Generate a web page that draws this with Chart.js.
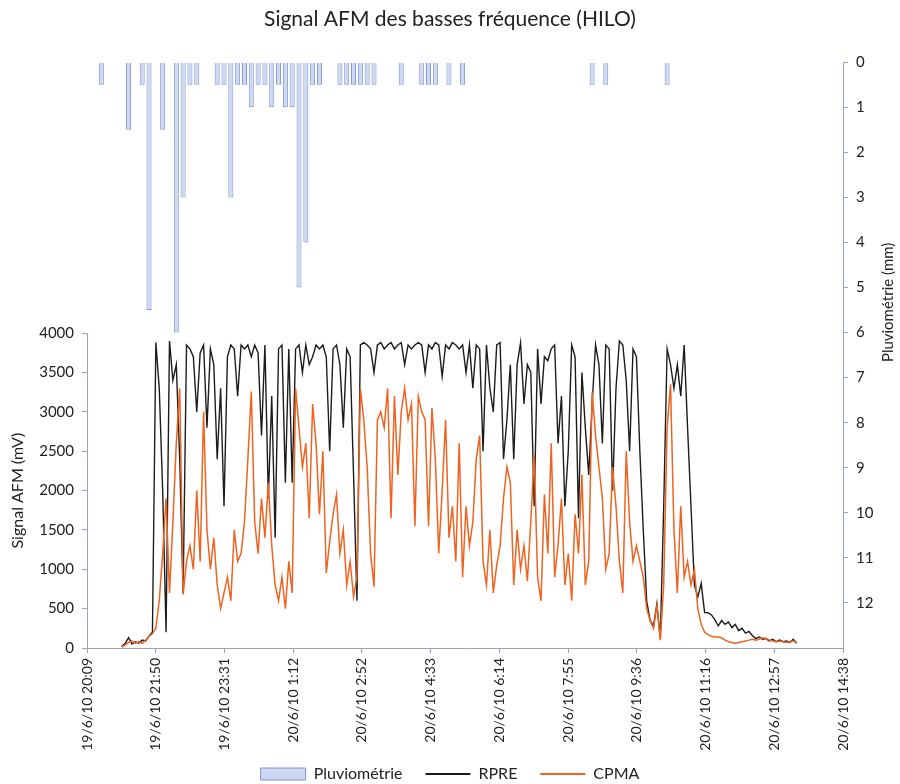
<!DOCTYPE html>
<html>
<head>
<meta charset="utf-8">
<script src="https://cdn.jsdelivr.net/npm/chart.js@4.4.0/dist/chart.umd.min.js"></script>
<style>
  html, body { margin: 0; padding: 0; background: #fff; }
</style>
</head>
<body>
<canvas id="afmChart" width="900" height="784"></canvas>
<script>
// Chart data (times are minutes since 19/6/10 00:00)
const chartTitle = 'Signal AFM des basses fréquence (HILO)';
const xTickLabels = [
  '19/6/10 20:09', '19/6/10 21:50', '19/6/10 23:31', '20/6/10 1:12',
  '20/6/10 2:52', '20/6/10 4:33', '20/6/10 6:14', '20/6/10 7:55',
  '20/6/10 9:36', '20/6/10 11:16', '20/6/10 12:57', '20/6/10 14:38'
];
const X_MIN = 1209;  // 19/6/10 20:09
const X_MAX = 2318;  // 20/6/10 14:38

// AFM signal, one reading every 5 min from 21:00
const SIGNAL_START = 1260;
const SIGNAL_STEP = 5;
const rpre = [
  20, 60, 130, 50, 80, 60, 100, 90, 150, 200,
  3880, 3300, 2000, 200, 3900, 3400, 3600, 2400, 700, 3850,
  3800, 3700, 3000, 3750, 3850, 2800, 3800, 3600, 2400, 3300,
  1800, 3700, 3850, 3800, 3200, 3850, 3800, 3850, 3700, 3850,
  3750, 2700, 3850, 1900, 3200, 1400, 3800, 3850, 2100, 3800,
  2100, 3800, 3850, 3500, 3850, 3600, 3700, 3850, 3800, 3850,
  3700, 2500, 3800, 3850, 3600, 2800, 3800, 3700, 2200, 600,
  3850, 3880, 3850, 3800, 3500, 3850, 3880, 3800, 3850, 3880,
  3800, 3850, 3880, 3600, 3850, 3800, 3850, 3880, 3850, 3500,
  3850, 3800, 3880, 3850, 3450, 3850, 3800, 3880, 3850, 3800,
  3850, 3500, 3850, 3300, 3850, 3800, 2500, 3850, 3300, 3000,
  3850, 3880, 2400, 2900, 3600, 2400, 3600, 3880, 3100, 3600,
  3500, 1800, 3800, 3100, 3700, 3650, 3800, 3850, 2600, 3200,
  1800, 2500, 3850, 3700, 1650, 3500, 2800, 2200, 3100, 3850,
  3600, 2600, 3850, 3800, 2000, 3300, 3900, 3850, 3400, 2500,
  3800, 3700, 2500, 1500, 600, 350, 280, 560, 120, 1800,
  3800, 3600, 3300, 3600, 3200, 3850, 2800, 1800, 800, 650,
  820, 450, 450, 420, 360, 280, 350, 300, 330, 260,
  300, 220, 250, 190, 210, 160, 120, 140, 110, 120,
  90, 110, 80, 100, 80, 90, 70, 110, 60
];
const cpma = [
  10, 40, 70, 90, 60, 80, 60, 100, 150, 180,
  250, 600, 1200, 1900, 700, 1600, 2600, 3300, 680, 1100,
  1300, 1000, 2000, 1100, 3000, 1500, 1000, 1400, 800, 500,
  700, 900, 600, 1500, 1100, 1200, 1600, 2400, 3260, 1600,
  1200, 1900, 1400, 2100, 1300, 800, 600, 900, 500, 1100,
  700, 3300, 2800, 2300, 2600, 1650, 3100, 2600, 1700, 2500,
  950, 1350, 1700, 1950, 1200, 1500, 800, 1100, 650, 900,
  3300, 2900, 2300, 1200, 780, 2900, 3000, 2800, 3300, 1650,
  3200, 2200, 3000, 3300, 2900, 3100, 1550, 3200, 3000, 2900,
  1550, 3050, 2400, 1200, 2000, 2900, 1400, 1800, 1100, 2600,
  900, 1800, 1300, 1600, 2400, 2700, 1100, 800, 1500, 700,
  1050, 1300, 1900, 2300, 2100, 800, 1500, 1000, 1300, 850,
  1600, 2450, 900, 600, 1950, 1200, 2600, 900, 1300, 1900,
  800, 1200, 600, 1700, 1200, 2200, 800, 1100, 3250, 2700,
  2300, 1900, 1000, 1200, 2300, 1800, 1100, 700, 2500, 1600,
  1100, 1300, 1100, 900, 500, 350, 250, 540, 100, 800,
  2800, 3350, 1500, 700, 1800, 900, 1100, 800, 1000, 500,
  300, 200, 170, 150, 140, 140, 130, 100, 80, 70,
  60, 70, 80, 90, 100, 110, 100, 110, 130, 120,
  100, 90, 80, 90, 80, 70, 80, 90, 70
];

// Rainfall (mm), one value every 10 min from 20:30
const RAIN_START = 1230;
const RAIN_STEP = 10;
const rain = [
  0.5, 0, 0, 0, 1.5, 0, 0.5, 5.5, 0, 1.5,
  0, 6, 3, 0.5, 0.5, 0, 0, 0.5, 0.5, 3,
  0.5, 0.5, 1, 0.5, 0.5, 1, 0.5, 1, 1, 5,
  4, 0.5, 0.5, 0, 0, 0.5, 0.5, 0.5, 0.5, 0.5,
  0.5, 0, 0, 0, 0.5, 0, 0, 0.5, 0.5, 0.5,
  0, 0.5, 0, 0.5, 0, 0, 0, 0, 0, 0,
  0, 0, 0, 0, 0, 0, 0, 0, 0, 0,
  0, 0, 0.5, 0, 0.5, 0, 0, 0, 0, 0,
  0, 0, 0, 0.5
];

const signalTicks = [0, 500, 1000, 1500, 2000, 2500, 3000, 3500, 4000];
const rainTicks = [0, 1, 2, 3, 4, 5, 6, 7, 8, 9, 10, 11, 12];

// Styling
const FONT = 'Lato, "Open Sans", sans-serif';
const AXIS = '#97a3c0';
const TEXT = '#222';

// Right axis title reads bottom-to-top, so it is drawn here
const rightTitle = {
  id: 'rightTitle',
  afterDraw(chart) {
    const s = chart.scales.yRain;
    const ctx = chart.ctx;
    ctx.save();
    ctx.translate(s.right - 12, s.top + (s.bottom - s.top) * 0.41);
    ctx.rotate(-Math.PI / 2);
    ctx.font = '15px ' + FONT;
    ctx.fillStyle = TEXT;
    ctx.textAlign = 'center';
    ctx.textBaseline = 'middle';
    ctx.fillText('Pluviométrie (mm)', 0, 0);
    ctx.restore();
  }
};

const toPoints = (values, start, step) => values.map((v, i) => ({ x: start + i * step, y: v }));

new Chart(document.getElementById('afmChart').getContext('2d'), {
  data: {
    datasets: [
      {
        type: 'bar',
        label: 'Pluviométrie',
        data: toPoints(rain, RAIN_START, RAIN_STEP),
        yAxisID: 'yRain',
        backgroundColor: '#cdd8f2',
        borderColor: '#7f93cc',
        borderWidth: 1,
        barPercentage: 0.8,
        categoryPercentage: 0.92,
        order: 2
      },
      {
        type: 'line',
        label: 'RPRE',
        data: toPoints(rpre, SIGNAL_START, SIGNAL_STEP),
        yAxisID: 'y',
        borderColor: '#1c1c1c',
        borderWidth: 1.4,
        pointRadius: 0,
        tension: 0,
        order: 1
      },
      {
        type: 'line',
        label: 'CPMA',
        data: toPoints(cpma, SIGNAL_START, SIGNAL_STEP),
        yAxisID: 'y',
        borderColor: '#ee6320',
        borderWidth: 1.5,
        pointRadius: 0,
        tension: 0,
        order: 0
      }
    ]
  },
  options: {
    responsive: false,
    animation: false,
    layout: { padding: { top: 0, left: 0, right: 0, bottom: -8 } },
    plugins: {
      title: {
        display: true,
        text: chartTitle,
        color: TEXT,
        font: { family: FONT, size: 21, weight: 'normal' },
        padding: { top: 7, bottom: 30 }
      },
      legend: {
        position: 'bottom',
        labels: {
          usePointStyle: true,
          pointStyleWidth: 45,
          boxHeight: 12,
          padding: 23,
          color: TEXT,
          font: { family: FONT, size: 16 },
          sort: (a, b) => a.datasetIndex - b.datasetIndex,
          generateLabels(chart) {
            const items = Chart.defaults.plugins.legend.labels.generateLabels(chart);
            items.forEach(item => {
              const ds = chart.data.datasets[item.datasetIndex];
              if (ds.type === 'bar') {
                item.pointStyle = 'rect';
              } else {
                item.pointStyle = 'line';
                item.strokeStyle = ds.borderColor;
                item.lineWidth = 2;
              }
            });
            return items;
          }
        }
      },
      tooltip: { enabled: false }
    },
    scales: {
      x: {
        type: 'linear',
        offset: false,
        min: X_MIN,
        max: X_MAX,
        afterBuildTicks: s => {
          const n = xTickLabels.length - 1;
          s.ticks = xTickLabels.map((_, k) => ({ value: X_MIN + k * (X_MAX - X_MIN) / n }));
        },
        afterFit: s => {
          s.height = 95;
          // long date labels run a little past the axis box, don't clip them
          s._computeLabelArea = () => undefined;
        },
        ticks: {
          autoSkip: false,
          minRotation: 90,
          maxRotation: 90,
          padding: 5,
          color: TEXT,
          font: { family: FONT, size: 14 },
          callback: (v, i) => xTickLabels[i]
        },
        grid: { offset: false, drawOnChartArea: false, tickLength: 5, color: AXIS },
        border: { color: AXIS }
      },
      y: {
        type: 'linear',
        position: 'left',
        stack: 'left',
        stackWeight: 314.4,
        weight: 0,
        min: 0,
        max: 4000,
        afterBuildTicks: s => { s.ticks = signalTicks.map(v => ({ value: v })); },
        afterFit: s => { s.width = 87; },
        ticks: {
          padding: 8,
          color: TEXT,
          font: { family: FONT, size: 15 },
          callback: v => String(v)
        },
        title: {
          display: true,
          text: 'Signal AFM (mV)',
          color: TEXT,
          font: { family: FONT, size: 16 },
          padding: { top: 8, bottom: 0 }
        },
        grid: { drawOnChartArea: false, tickLength: 5, color: AXIS },
        border: { color: AXIS }
      },
      yTop: {
        type: 'linear',
        position: 'left',
        stack: 'left',
        stackWeight: 270.6,
        weight: 1,
        min: 0,
        max: 1,
        afterFit: s => { s.width = 0; },
        ticks: { display: false },
        grid: { display: false },
        border: { display: false }
      },
      yRain: {
        type: 'linear',
        position: 'right',
        reverse: true,
        min: 0,
        max: 13,
        afterBuildTicks: s => { s.ticks = rainTicks.map(v => ({ value: v })); },
        afterFit: s => { s.width = 57; },
        ticks: { padding: 8, color: TEXT, font: { family: FONT, size: 15 } },
        grid: { drawOnChartArea: false, tickLength: 5, color: AXIS },
        border: { color: AXIS }
      }
    }
  },
  plugins: [rightTitle]
});
</script>
</body>
</html>
